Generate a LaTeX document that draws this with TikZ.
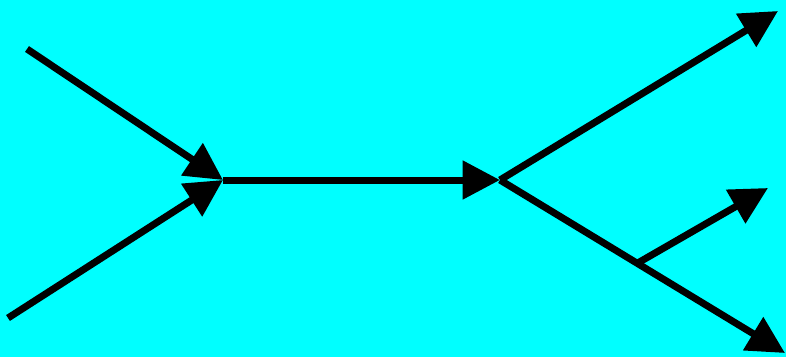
\documentclass[tikz,border=0pt]{standalone}
\usepackage{tikz}
\usetikzlibrary{arrows.meta,positioning}
\definecolor{bgcyan}{RGB}{0,255,255}
\tikzset{flow/.style={line width=5.25pt, -{Triangle[length=28pt,width=28pt]}}}

\begin{document}
\begin{tikzpicture}[x=0.75pt,y=-0.75pt]

  \fill[bgcyan] (0,0) rectangle (786,357);
  \useasboundingbox (0,0) rectangle (786,357);

  \coordinate (a) at (27,49);
  \coordinate (b) at (8,318);
  \coordinate (m) at (223,180);
  \coordinate (n) at (500,180);
  \coordinate (up) at (778,11);
  \coordinate (dn) at (785,353);
  \coordinate (br) at (636,264);
  \coordinate (sm) at (768,188);

  \draw[flow] (a) -- (m);
  \draw[flow] (b) -- (m);
  \draw[flow] (m) -- (n);
  \draw[flow] (n) -- (up);
  \draw[flow] (n) -- (dn);
  \draw[flow] (br) -- (sm);

\end{tikzpicture}
\end{document}
